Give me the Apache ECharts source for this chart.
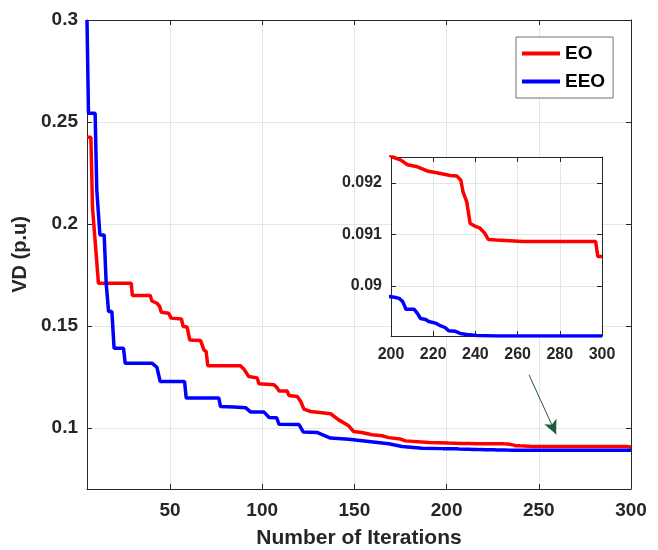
<!DOCTYPE html>
<html>
<head>
<meta charset="utf-8">
<style>
  html, body { margin: 0; padding: 0; background: #fff; }
  #chart { width: 658px; height: 550px; }
</style>
<script src="https://cdn.jsdelivr.net/npm/echarts@6/dist/echarts.min.js"></script>
</head>
<body>
<div id="chart"></div>
<script>
// convergence curves: [iteration, VD]
const eoCurve = [
  [5, 0.2425], [7.1, 0.2425], [8, 0.2077], [9, 0.2077], [10, 0.1848], [10.8, 0.1848],
  [11.2, 0.1709], [29, 0.1709], [29.6, 0.1649], [39.3, 0.1649], [40.2, 0.1622],
  [42.9, 0.1611], [44.4, 0.1595], [45.3, 0.1567], [49.3, 0.1562], [50.6, 0.1538],
  [56.2, 0.1534], [57.1, 0.1497], [59.3, 0.1494], [60.7, 0.1431], [66.6, 0.1428],
  [68.4, 0.1382], [69.6, 0.1375], [70.5, 0.1305], [88.2, 0.1305], [90, 0.1289],
  [92.7, 0.1252], [97.3, 0.1245], [98.2, 0.1216], [106.4, 0.1211], [108.2, 0.1195],
  [109.1, 0.1181], [113.6, 0.118], [114.5, 0.1158], [119, 0.1154], [120.9, 0.1129],
  [122.6, 0.1092], [126.3, 0.108], [137.1, 0.1069], [141.5, 0.1039], [146.9, 0.101],
  [149.6, 0.0982], [154, 0.0977], [159.6, 0.0966], [165, 0.0961], [168.6, 0.0952],
  [175, 0.0945], [177.7, 0.0936], [190.4, 0.0928], [200.8, 0.0925], [204.7, 0.09244],
  [207.8, 0.09235], [212.5, 0.09231], [217.2, 0.09223], [223.4, 0.09218],
  [228.1, 0.09214], [231.3, 0.09213], [233.1, 0.09205], [234.1, 0.09183],
  [235.9, 0.09163], [237.5, 0.09121], [239.8, 0.09116], [242.2, 0.09112],
  [244.5, 0.09102], [246.1, 0.0909], [250, 0.09089], [262.5, 0.09086],
  [297, 0.09086], [298, 0.09057], [300, 0.09057]
];

const eeoCurve = [
  [5, 0.3], [5.8, 0.2543], [9.4, 0.2543], [10.3, 0.2167], [11.2, 0.2167], [12, 0.1946],
  [14.3, 0.1946], [15.4, 0.1709], [16.7, 0.157], [18.5, 0.157], [19.7, 0.139],
  [24.8, 0.139], [25.7, 0.1317], [40.2, 0.1317], [42.9, 0.1297], [44.7, 0.1227],
  [57.9, 0.1227], [58.8, 0.1146], [76.5, 0.1146], [77.4, 0.1104], [84.7, 0.1102],
  [91, 0.1099], [93.8, 0.1077], [101, 0.1077], [103.8, 0.1051], [107.8, 0.105],
  [109.1, 0.1018], [120, 0.1016], [122.3, 0.0979], [130, 0.0977], [137, 0.095],
  [146.9, 0.0944], [157.8, 0.0933], [168.6, 0.0922], [175.9, 0.0908], [186.7, 0.09],
  [198, 0.0898], [201.6, 0.08978], [203.9, 0.08976], [205.5, 0.0897], [206.6, 0.0896],
  [207, 0.08955], [210.9, 0.08955], [212.5, 0.08947], [214, 0.08937], [216.4, 0.08935],
  [217.9, 0.08931], [221.1, 0.08928], [223.4, 0.08923], [225.8, 0.08919],
  [227.3, 0.08913], [230.5, 0.08912], [232.8, 0.08908], [235.9, 0.08906],
  [240.6, 0.08904], [250, 0.08903], [300, 0.08903]
];

const seriesNames = ['EO', 'EEO'];
const mainXTicks = [50, 100, 150, 200, 250, 300];
const mainYTicks = [0.1, 0.15, 0.2, 0.25, 0.3];
const insetXTicks = [200, 220, 240, 260, 280, 300];
const insetYTicks = [0.09, 0.091, 0.092];
// arrow pointing from the inset down to the tail of the curves
const arrowFrom = [244.7, 0.126];
const arrowTo = [259.4, 0.0968];

const textColor = '#262626';
const gridColor = '#e5e5e5';
const fontFamily = "'Liberation Sans', Arial, sans-serif";

const chart = echarts.init(document.getElementById('chart'));

const axisBase = (ticks, size, showLabel, z) => ({
  type: 'value',
  z: z,
  axisLine: { show: true, onZero: false, lineStyle: { color: textColor, width: 1 } },
  axisTick: { show: true, inside: true, length: 5, customValues: ticks, lineStyle: { color: textColor } },
  axisLabel: {
    show: showLabel,
    customValues: ticks,
    color: textColor,
    fontSize: size,
    fontWeight: 'bold',
    fontFamily: fontFamily,
  },
  splitLine: { show: false },
});

const withGrid = (axis, gridLines) => {
  axis.splitLine = { show: gridLines, lineStyle: { color: gridColor, width: 1 } };
  return axis;
};

const option = {
  animation: false,
  backgroundColor: '#fff',
  textStyle: { fontFamily: fontFamily },
  grid: [
    { left: 87, right: 27, top: 20, bottom: 61, outerBoundsMode: 'none' },
    {
      left: 391, top: 157, width: 211, height: 179, z: 10,
      show: true, backgroundColor: '#fff', borderWidth: 0, outerBoundsMode: 'none',
    },
  ],
  legend: {
    orient: 'vertical',
    left: 516,
    top: 37,
    padding: [7, 8, 7, 6],
    itemGap: 9,
    itemWidth: 38,
    itemHeight: 4,
    icon: 'rect',
    backgroundColor: '#fff',
    borderColor: '#707070',
    borderWidth: 1,
    data: seriesNames,
    textStyle: { color: '#000', fontSize: 19, fontWeight: 'bold', fontFamily: fontFamily },
  },
  xAxis: [
    Object.assign(withGrid(axisBase(mainXTicks, 19, true, 0), true), {
      gridIndex: 0, position: 'bottom', min: 5, max: 300,
      name: 'Number of Iterations', nameLocation: 'middle', nameGap: 39,
      nameTextStyle: { color: textColor, fontSize: 21, fontWeight: 'bold', fontFamily: fontFamily },
      axisLabel: Object.assign(axisBase(mainXTicks, 19, true, 0).axisLabel, { margin: 12 }),
    }),
    Object.assign(axisBase(mainXTicks, 19, false, 0), { gridIndex: 0, position: 'top', min: 5, max: 300 }),
    Object.assign(withGrid(axisBase(insetXTicks, 16, true, 11), true), {
      gridIndex: 1, position: 'bottom', min: 200, max: 300,
      axisLabel: Object.assign(axisBase(insetXTicks, 16, true, 11).axisLabel, { margin: 11 }),
    }),
    Object.assign(axisBase(insetXTicks, 16, false, 11), { gridIndex: 1, position: 'top', min: 200, max: 300 }),
  ],
  yAxis: [
    Object.assign(withGrid(axisBase(mainYTicks, 19, true, 0), true), {
      gridIndex: 0, position: 'left', min: 0.07, max: 0.3,
      name: 'VD (p.u)', nameLocation: 'middle', nameGap: 54,
      nameTextStyle: { color: textColor, fontSize: 20, fontWeight: 'bold', fontFamily: fontFamily },
      axisLabel: Object.assign(axisBase(mainYTicks, 19, true, 0).axisLabel, { margin: 9 }),
    }),
    Object.assign(axisBase(mainYTicks, 19, false, 0), { gridIndex: 0, position: 'right', min: 0.07, max: 0.3 }),
    Object.assign(withGrid(axisBase(insetYTicks, 16, true, 11), true), {
      gridIndex: 1, position: 'left', min: 0.08903, max: 0.0925,
      axisLabel: Object.assign(axisBase(insetYTicks, 16, true, 11).axisLabel, { margin: 9 }),
    }),
    Object.assign(axisBase(insetYTicks, 16, false, 11), { gridIndex: 1, position: 'right', min: 0.08903, max: 0.0925 }),
  ],
  series: [
    {
      name: 'EO', type: 'line', xAxisIndex: 0, yAxisIndex: 0,
      data: eoCurve, showSymbol: false, symbol: 'none',
      lineStyle: { color: '#ff0000', width: 3.5 }, itemStyle: { color: '#ff0000' },
      emphasis: { disabled: true },
      markLine: {
        silent: true,
        symbol: ['none', 'arrow'],
        symbolSize: [10, 14],
        label: { show: false },
        lineStyle: { color: '#1f5a3d', width: 1, type: 'solid' },
        itemStyle: { color: '#1f5a3d' },
        data: [[{ coord: arrowFrom }, { coord: arrowTo }]],
      },
    },
    {
      name: 'EEO', type: 'line', xAxisIndex: 0, yAxisIndex: 0,
      data: eeoCurve, showSymbol: false, symbol: 'none',
      lineStyle: { color: '#0000ff', width: 3.5 }, itemStyle: { color: '#0000ff' },
      emphasis: { disabled: true },
    },
    {
      name: 'EO-zoom', type: 'line', xAxisIndex: 2, yAxisIndex: 2, z: 12,
      data: eoCurve, showSymbol: false, symbol: 'none',
      lineStyle: { color: '#ff0000', width: 3.5 }, emphasis: { disabled: true },
    },
    {
      name: 'EEO-zoom', type: 'line', xAxisIndex: 2, yAxisIndex: 2, z: 12,
      data: eeoCurve, showSymbol: false, symbol: 'none',
      lineStyle: { color: '#0000ff', width: 3.5 }, emphasis: { disabled: true },
    },
  ],
};

chart.setOption(option);
</script>
</body>
</html>
